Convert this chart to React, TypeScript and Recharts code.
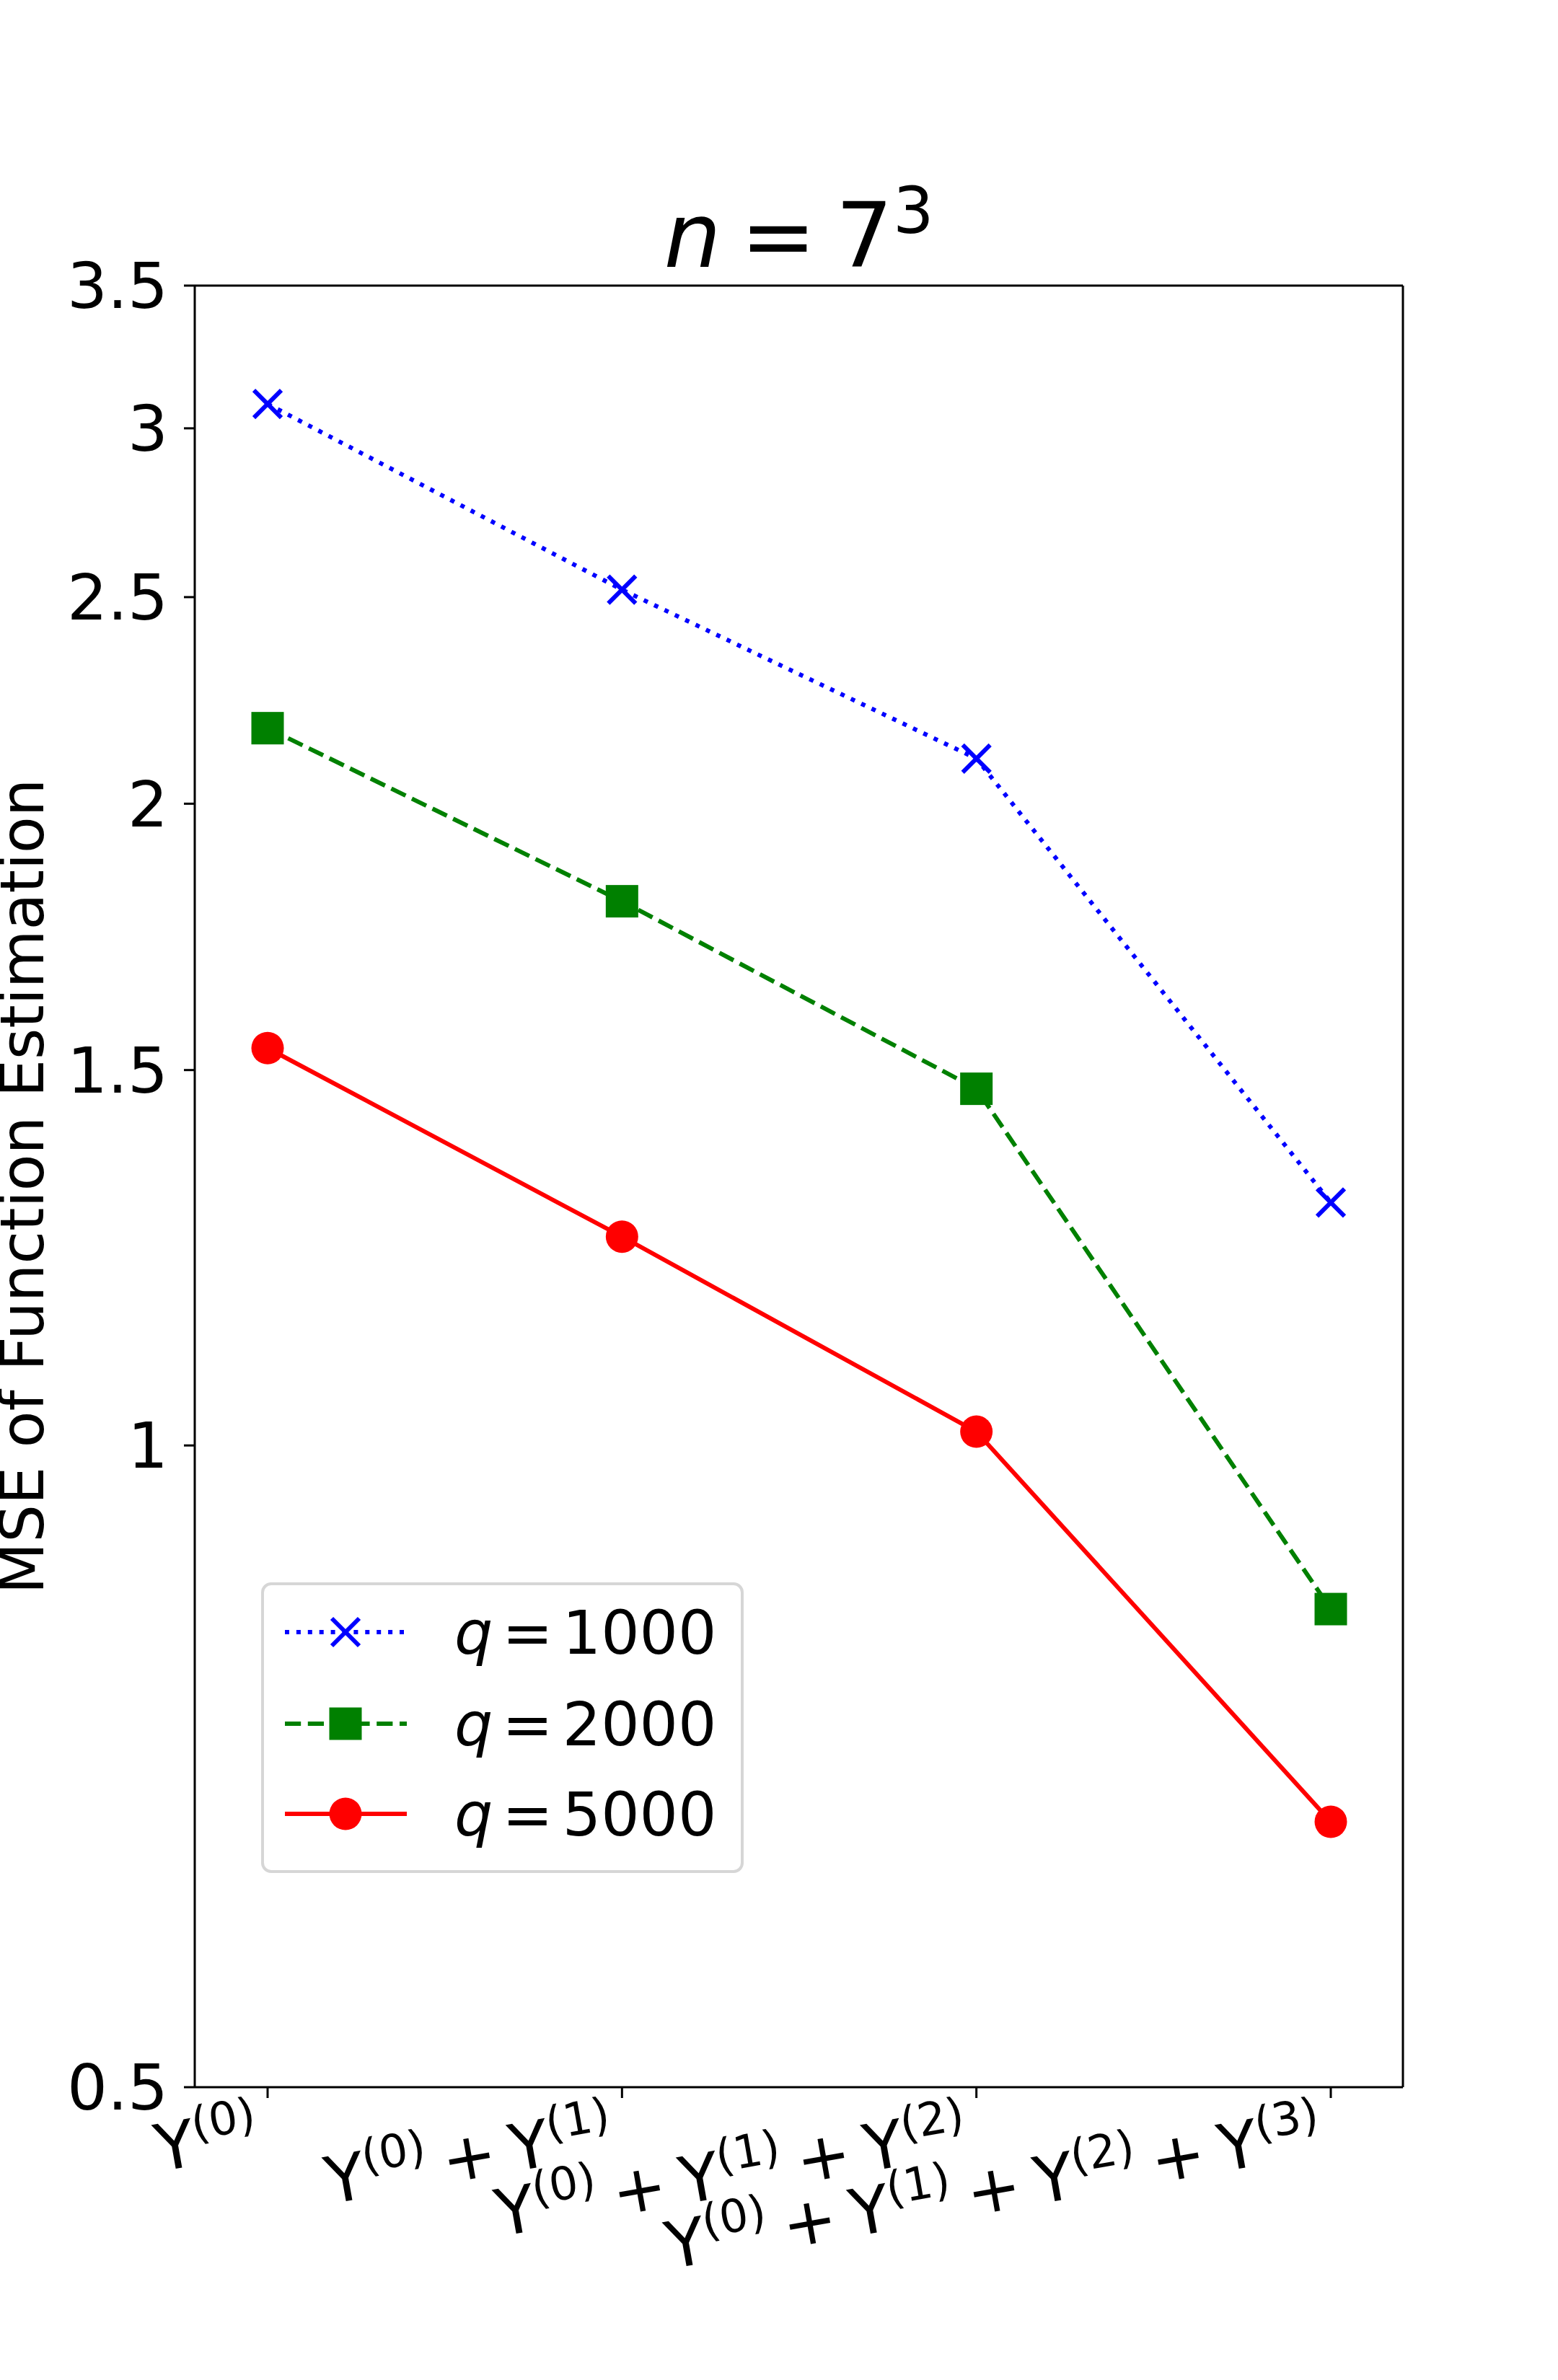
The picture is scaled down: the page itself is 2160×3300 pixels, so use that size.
import React from 'react';
import { Legend, Line, LineChart, XAxis, YAxis } from 'recharts';

// values (log-scaled y axis)
const categories = ['Y(0)', 'Y(0)+Y(1)', 'Y(0)+Y(1)+Y(2)', 'Y(0)+Y(1)+Y(2)+Y(3)'];
const q1000 = [3.08, 2.52, 2.1, 1.3];
const q2000 = [2.17, 1.8, 1.47, 0.838];
const q5000 = [1.536, 1.253, 1.015, 0.666];
const qValues = [1000, 2000, 5000];
const yTicks = [0.5, 1, 1.5, 2, 2.5, 3, 3.5];

const data = categories.map((cat, i) => ({
  cat,
  q1000: q1000[i],
  q2000: q2000[i],
  q5000: q5000[i],
}));

const FONT = '"DejaVu Sans", sans-serif';
const W = 2160;
const H = 3300;
const PLOT_LEFT = 270;
const PLOT_TOP = 396;
const PLOT_RIGHT = 1945;
const PLOT_BOTTOM = 2894;
const PLOT_CX = (PLOT_LEFT + PLOT_RIGHT) / 2;
const PLOT_CY = (PLOT_TOP + PLOT_BOTTOM) / 2;

const BLUE = '#0000ff';
const GREEN = '#008000';
const RED = '#ff0000';
const LW = 6;

const XMark = ({ cx, cy }: any) => {
  if (cx == null || cy == null) return null;
  const h = 19;
  return (
    <g>
      <line x1={cx - h} y1={cy - h} x2={cx + h} y2={cy + h} stroke={BLUE} strokeWidth={LW} />
      <line x1={cx - h} y1={cy + h} x2={cx + h} y2={cy - h} stroke={BLUE} strokeWidth={LW} />
    </g>
  );
};

const SquareMark = ({ cx, cy }: any) => {
  if (cx == null || cy == null) return null;
  return <rect x={cx - 22.5} y={cy - 22.5} width={45} height={45} fill={GREEN} />;
};

const CircleMark = ({ cx, cy }: any) => {
  if (cx == null || cy == null) return null;
  return <circle cx={cx} cy={cy} r={22.5} fill={RED} />;
};

const series = [
  { key: 'q1000', color: BLUE, dash: `${LW} ${LW * 1.65}`, Mark: XMark },
  { key: 'q2000', color: GREEN, dash: `${LW * 3.7} ${LW * 1.6}`, Mark: SquareMark },
  { key: 'q5000', color: RED, dash: undefined as string | undefined, Mark: CircleMark },
];

// rotated tick label like Y^(0) + Y^(1) ...
const XTick = ({ x, y, payload }: any) => {
  const terms = String(payload.value).split('+');
  const F = 90;
  const S = 63;
  const R = 35;
  const ax = x - 8;
  const ay = y + 77;
  const spans: React.ReactNode[] = [];
  terms.forEach((t, i) => {
    if (i > 0) {
      spans.push(
        <tspan key={'p' + i} dx={0.22 * F} dy={R}>
          +
        </tspan>
      );
    }
    spans.push(
      <tspan key={'y' + i} dx={i > 0 ? 0.22 * F : 0}>
        {t.slice(0, 1)}
      </tspan>
    );
    spans.push(
      <tspan key={'s' + i} fontSize={S} dy={-R}>
        {t.slice(1)}
      </tspan>
    );
  });
  return (
    <text
      x={ax}
      y={ay}
      textAnchor="end"
      transform={`rotate(-10 ${ax} ${ay})`}
      fontSize={F}
      fontFamily={FONT}
      fill="#000"
    >
      {spans}
    </text>
  );
};

// title and y axis title
const FrameTexts = () => (
  <g fontFamily={FONT} fill="#000">
    <text x={PLOT_CX} y={370} textAnchor="middle" fontSize={125}>
      <tspan fontStyle="italic">n</tspan>
      <tspan dx={27}>=</tspan>
      <tspan dx={27}>7</tspan>
      <tspan fontSize={89} dy={-47}>
        3
      </tspan>
    </text>
    <text
      x={60}
      y={PLOT_CY}
      transform={`rotate(-90 60 ${PLOT_CY})`}
      textAnchor="middle"
      fontSize={83}
    >
      MSE of Function Estimation
    </text>
  </g>
);

const LEG_W = 669;
const LEG_H = 403;
const legendRows = [69, 196, 321];

const LegendBox = () => (
  <svg width={LEG_W} height={LEG_H} style={{ display: 'block' }}>
    <rect
      x={2}
      y={2}
      width={LEG_W - 4}
      height={LEG_H - 4}
      rx={12}
      ry={12}
      fill="#fff"
      stroke="#d6d6d6"
      strokeWidth={4}
    />
    {series.map((s, i) => {
      const cy = legendRows[i];
      const Mark = s.Mark;
      return (
        <g key={s.key}>
          <line x1={33} y1={cy} x2={202} y2={cy} stroke={s.color} strokeWidth={LW} strokeDasharray={s.dash} />
          <Mark cx={117} cy={cy} />
          <text x={268} y={cy} dy="0.355em" fontSize={84} fontFamily={FONT} fill="#000">
            <tspan fontStyle="italic">q</tspan>
            <tspan dx={13}>=</tspan>
            <tspan dx={13}>{qValues[i]}</tspan>
          </text>
        </g>
      );
    })}
  </svg>
);

export default function App() {
  const axisStyle = { stroke: '#000', strokeWidth: 3 };
  return (
    <div style={{ position: 'absolute', left: 0, top: 0, width: W, height: H, background: '#fff' }}>
      <LineChart
        width={W}
        height={H}
        data={data}
        margin={{ top: PLOT_TOP - 1, right: W - PLOT_RIGHT - 1, bottom: H - PLOT_BOTTOM - 300, left: 0 }}
        style={{ fontFamily: FONT }}
      >
        <XAxis
          xAxisId="bottom"
          dataKey="cat"
          type="category"
          height={300}
          padding={{ left: 101, right: 100 }}
          axisLine={axisStyle}
          tickLine={axisStyle}
          tickSize={15}
          tickMargin={0}
          interval={0}
          tick={<XTick />}
        />
        <XAxis
          xAxisId="top"
          orientation="top"
          dataKey="cat"
          height={1}
          axisLine={axisStyle}
          tick={false}
          tickLine={false}
        />
        <YAxis
          yAxisId="left"
          type="number"
          scale="log"
          domain={[0.5, 3.5]}
          ticks={yTicks}
          allowDataOverflow
          width={PLOT_LEFT}
          axisLine={axisStyle}
          tickLine={axisStyle}
          tickSize={15}
          tickMargin={22}
          interval={0}
          tick={{ fontSize: 88, fill: '#000', fontFamily: FONT }}
          tickFormatter={(v: number) => String(v)}
          label={<FrameTexts />}
        />
        <YAxis
          yAxisId="right"
          orientation="right"
          type="number"
          domain={[0, 1]}
          width={1}
          axisLine={axisStyle}
          tick={false}
          tickLine={false}
        />
        <Legend
          layout="vertical"
          align="center"
          verticalAlign="middle"
          wrapperStyle={{ left: 362, top: 2194, width: LEG_W, height: LEG_H }}
          content={<LegendBox />}
        />
        {series.map((s) => (
          <Line
            key={s.key}
            xAxisId="bottom"
            yAxisId="left"
            type="linear"
            dataKey={s.key}
            stroke={s.color}
            strokeWidth={LW}
            strokeDasharray={s.dash}
            dot={<s.Mark />}
            activeDot={false}
            isAnimationActive={false}
          />
        ))}
      </LineChart>
    </div>
  );
}
